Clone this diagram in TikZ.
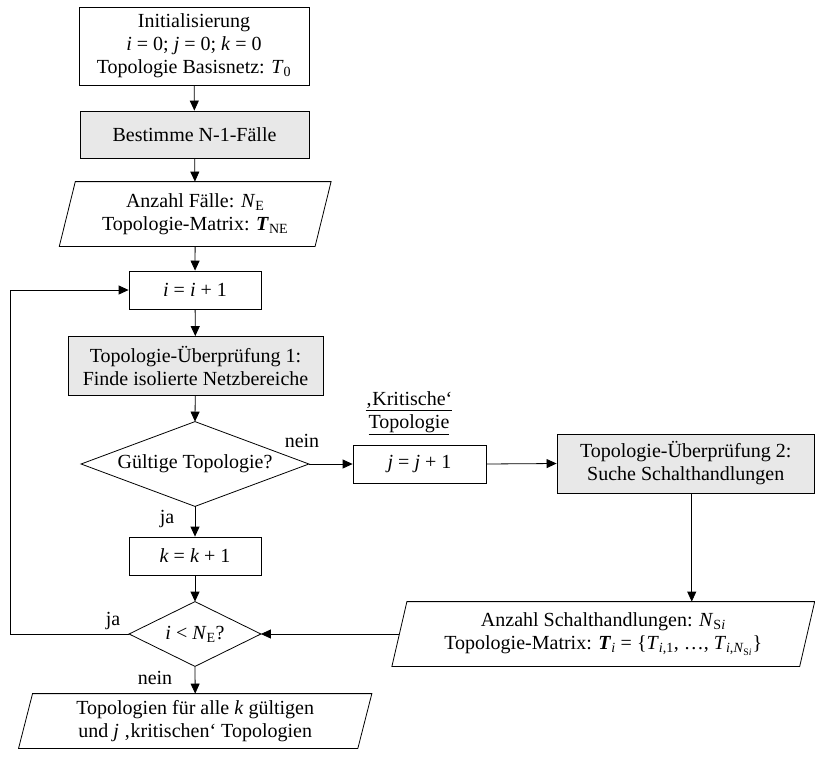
\documentclass[tikz,border=0pt]{standalone}
\usepackage{fontspec}
\setmainfont{Liberation Serif}
\usetikzlibrary{arrows.meta,calc}
\begin{document}
\begin{tikzpicture}[x=1pt,y=-1pt,
  font=\fontsize{20}{23}\selectfont,
  line width=0.8pt,
  >={Triangle[length=10pt,width=9pt]},
  box/.style={draw, rectangle, inner sep=0pt, align=center},
  proc/.style={box, fill=gray!18},
  txt/.style={inner sep=0pt, align=center},
  lbl/.style={inner sep=0pt}
]
\useasboundingbox (0,0) rectangle (815,758);

\node[box, minimum width=230pt, minimum height=78pt] (init) at (194,46)
  {Initialisierung\\ \textit{i} = 0; \textit{j} = 0; \textit{k} = 0\\ Topologie Basisnetz: \textit{T}\textsubscript{0}};
\node[proc, minimum width=229pt, minimum height=47pt] (best) at (194.5,134.5) {Bestimme N-1-Fälle};
\node[txt, minimum width=255pt, minimum height=64pt] (par1) at (195.2,214)
  {Anzahl Fälle: \textit{N}\textsubscript{E}\\ Topologie-Matrix: \textbf{\textit{T}}\textsubscript{NE}};
\draw ($(par1.north west)+(8,0)$) -- ($(par1.north east)+(8,0)$) -- ($(par1.south east)+(-8,0)$) -- ($(par1.south west)+(-8,0)$) -- cycle;
\node[box, minimum width=132pt, minimum height=38pt] (inc) at (195,290) {\textit{i} = \textit{i} + 1};
\node[proc, minimum width=255pt, minimum height=59pt] (top1) at (195.5,366)
  {Topologie-Überprüfung 1:\\ Finde isolierte Netzbereiche};
\node[txt, minimum width=227pt, minimum height=84pt] (dia1) at (195,464) {Gültige Topologie?};
\draw (dia1.north) -- (dia1.east) -- (dia1.south) -- (dia1.west) -- cycle;
\node[box, minimum width=133pt, minimum height=38pt] (jbox) at (419.5,464) {\textit{j} = \textit{j} + 1};
\node[proc, minimum width=257.5pt, minimum height=59pt] (top2) at (685.75,463.5)
  {Topologie-Überprüfung 2:\\ Suche Schalthandlungen};
\node[txt] (krit) at (409,413) {\underline{‚Kritische‘}\\ \underline{Topologie}};
\node[box, minimum width=132pt, minimum height=38pt] (kbox) at (195,556) {\textit{k} = \textit{k} + 1};
\node[txt, minimum width=131pt, minimum height=64pt] (dia2) at (195,634) {\textit{i} < \textit{N}\textsubscript{E}?};
\draw (dia2.north) -- (dia2.east) -- (dia2.south) -- (dia2.west) -- cycle;
\node[txt, minimum width=407pt, minimum height=64pt] (par2) at (603.3,634)
  {Anzahl Schalthandlungen: \textit{N}\textsubscript{S\textit{i}}\\ Topologie-Matrix: \textbf{\textit{T}}\textsubscript{\textit{i}} = \{\textit{T}\textsubscript{\textit{i},1}, …, \textit{T}\textsubscript{\textit{i},\textit{N}\textsubscript{S\textit{i}}}\}};
\draw ($(par2.north west)+(7.5,0)$) -- ($(par2.north east)+(7.5,0)$) -- ($(par2.south east)+(-7.5,0)$) -- ($(par2.south west)+(-7.5,0)$) -- cycle;
\node[txt, minimum width=338.5pt, minimum height=54pt] (par3) at (195.2,721)
  {Topologien für alle \textit{k} gültigen\\ und \textit{j} ‚kritischen‘ Topologien};
\draw ($(par3.north west)+(7,0)$) -- ($(par3.north east)+(7,0)$) -- ($(par3.south east)+(-7,0)$) -- ($(par3.south west)+(-7,0)$) -- cycle;

\node[lbl] (nein1) at (302,441) {nein};
\node[lbl] (ja1) at (167,519) {ja};
\node[lbl] (ja2) at (113,621) {ja};
\node[lbl] (nein2) at (155,678) {nein};

\coordinate (loopx) at (10,0);
\coordinate (a2) at ($(top2.south)+(6,0)$);

\draw[->] (init) -- (best);
\draw[->] (best) -- (par1);
\draw[->] (par1) -- (inc);
\draw[->] (inc) -- (top1);
\draw[->] (top1) -- (dia1.north);
\draw[->] (dia1.east) -- (jbox.west);
\draw[->] (jbox.east) -- (top2.west);
\draw[->] (a2) -- (a2 |- par2.north);
\draw[->] (par2.west) -- (dia2.east);
\draw[->] (dia1.south) -- (kbox.north);
\draw[->] (kbox.south) -- (dia2.north);
\draw[->] (dia2.south) -- (par3.north);
\draw[->] (dia2.west) -- (dia2.west -| loopx) |- (inc.west);
\end{tikzpicture}
\end{document}
